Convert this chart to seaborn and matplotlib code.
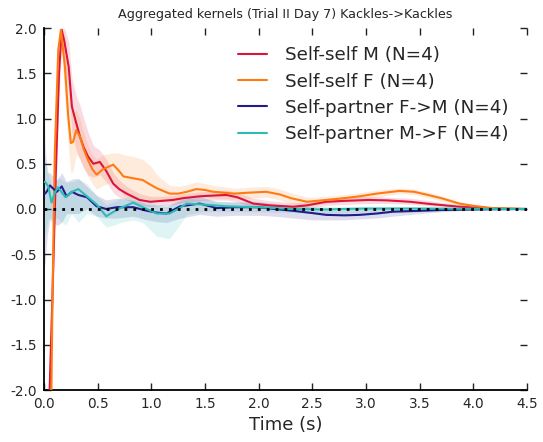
import numpy as np
import pandas as pd
import matplotlib
matplotlib.use("Agg")
import matplotlib.pyplot as plt
import seaborn as sns

# ---------------- data ----------------
labels = ["Self-self M (N=4)", "Self-self F (N=4)",
          "Self-partner F->M (N=4)", "Self-partner M->F (N=4)"]
colors = ["#DC143C", "#FF7A12", "#211C8C", "#2DBBB6"]

# Self-self M
t_m = [0.045, 0.08, 0.11, 0.14, 0.165, 0.19, 0.23, 0.26, 0.3, 0.335, 0.37, 0.41, 0.46, 0.52,
       0.58, 0.645, 0.7, 0.77, 0.89, 0.99, 1.1, 1.2, 1.3, 1.45, 1.6, 1.7, 1.8, 1.95, 2.1, 2.32,
       2.45, 2.63, 2.8, 3.03, 3.2, 3.41, 3.6, 3.87, 4.1, 4.3, 4.5]
v_m = [-2.3, -0.9, 0.4, 1.5, 1.98, 1.85, 1.57, 1.13, 0.95, 0.8, 0.68, 0.58, 0.5, 0.52,
       0.42, 0.28, 0.22, 0.17, 0.1, 0.08, 0.09, 0.1, 0.12, 0.14, 0.15, 0.155, 0.13, 0.06, 0.04, 0.025,
       0.04, 0.08, 0.09, 0.1, 0.095, 0.08, 0.055, 0.025, 0.01, 0.004, 0.0]
hi_m = [-2.2, -0.6, 0.7, 1.75, 2.0, 2.0, 1.85, 1.45, 1.25, 1.15, 1.0, 0.85, 0.7, 0.65,
        0.55, 0.4, 0.32, 0.25, 0.17, 0.14, 0.14, 0.15, 0.17, 0.19, 0.2, 0.21, 0.18, 0.12, 0.09, 0.07,
        0.08, 0.12, 0.13, 0.14, 0.13, 0.12, 0.09, 0.05, 0.02, 0.01, 0.0]
lo_m = [-2.4, -1.2, 0.1, 1.25, 1.8, 1.6, 1.3, 0.85, 0.65, 0.55, 0.45, 0.38, 0.35, 0.38,
        0.3, 0.18, 0.13, 0.1, 0.04, 0.03, 0.04, 0.05, 0.07, 0.09, 0.1, 0.1, 0.08, 0.01, 0.0, -0.02,
        0.0, 0.04, 0.05, 0.06, 0.06, 0.05, 0.03, 0.01, 0.0, 0.0, 0.0]

# Self-self F
t_f = [0.066, 0.08, 0.1, 0.133, 0.158, 0.195, 0.226, 0.25, 0.27, 0.3, 0.335, 0.37, 0.41, 0.45,
       0.49, 0.55, 0.645, 0.7, 0.74, 0.83, 0.92, 0.99, 1.05, 1.17, 1.25, 1.33, 1.42, 1.5, 1.58,
       1.77, 1.9, 2.07, 2.2, 2.3, 2.45, 2.63, 2.8, 2.94, 3.1, 3.31, 3.45, 3.56, 3.7, 3.87, 4.0,
       4.18, 4.5]
v_f = [-2.3, -0.9, 0.6, 1.76, 1.98, 1.57, 1.02, 0.73, 0.74, 0.87, 0.8, 0.66, 0.54, 0.44,
       0.38, 0.44, 0.49, 0.42, 0.36, 0.34, 0.32, 0.27, 0.23, 0.17, 0.17, 0.19, 0.22, 0.21, 0.19,
       0.17, 0.18, 0.19, 0.16, 0.12, 0.08, 0.1, 0.12, 0.14, 0.17, 0.2, 0.19, 0.16, 0.12, 0.06, 0.035,
       0.01, 0.0]
hi_f = [-2.2, -0.7, 0.9, 1.9, 2.0, 1.9, 1.35, 1.1, 1.05, 1.1, 1.0, 0.85, 0.7, 0.6,
        0.55, 0.6, 0.62, 0.62, 0.6, 0.58, 0.55, 0.48, 0.38, 0.26, 0.25, 0.27, 0.3, 0.28, 0.26,
        0.23, 0.24, 0.25, 0.22, 0.18, 0.13, 0.14, 0.16, 0.18, 0.21, 0.23, 0.22, 0.19, 0.15, 0.08, 0.05,
        0.015, 0.0]
lo_f = [-2.4, -1.1, 0.3, 1.5, 1.9, 1.2, 0.7, 0.4, 0.42, 0.6, 0.55, 0.45, 0.36, 0.28,
        0.22, 0.26, 0.3, 0.22, 0.15, 0.12, 0.12, 0.1, 0.1, 0.08, 0.09, 0.11, 0.14, 0.14, 0.12,
        0.11, 0.12, 0.13, 0.1, 0.06, 0.03, 0.06, 0.08, 0.1, 0.13, 0.17, 0.16, 0.13, 0.09, 0.04, 0.02,
        0.005, 0.0]

# Self-partner F->M
t_fm = [0.0, 0.01, 0.03, 0.056, 0.09, 0.12, 0.165, 0.21, 0.26, 0.32, 0.4, 0.49, 0.58, 0.68,
        0.83, 0.96, 1.05, 1.14, 1.27, 1.45, 1.61, 1.77, 2.0, 2.15, 2.32, 2.5, 2.63, 2.8, 2.94,
        3.1, 3.25, 3.5, 3.72, 4.0, 4.5]
v_fm = [0.18, 0.17, 0.2, 0.26, 0.22, 0.19, 0.25, 0.14, 0.19, 0.155, 0.13, 0.03, 0.0, 0.02,
        0.02, -0.02, -0.04, -0.05, 0.03, 0.06, 0.01, 0.02, 0.02, 0.0, -0.02, -0.045, -0.065, -0.07, -0.065,
        -0.05, -0.03, -0.02, -0.01, -0.005, 0.0]
hi_fm = [1.34, 0.7, 0.4, 0.4, 0.35, 0.32, 0.4, 0.3, 0.33, 0.34, 0.25, 0.15, 0.1, 0.12,
         0.1, 0.05, 0.04, 0.03, 0.1, 0.14, 0.08, 0.08, 0.08, 0.06, 0.04, 0.02, 0.0, 0.0, 0.0,
         0.01, 0.02, 0.01, 0.01, 0.0, 0.0]
lo_fm = [-0.65, -0.6, -0.3, -0.1, -0.15, -0.18, -0.15, -0.05, -0.05, -0.05, 0.0, -0.08, -0.1, -0.1,
         -0.08, -0.12, -0.14, -0.15, -0.1, -0.06, -0.08, -0.07, -0.07, -0.08, -0.1, -0.12, -0.12, -0.12, -0.11,
         -0.1, -0.08, -0.05, -0.03, -0.01, 0.0]

# Self-partner M->F
t_mf = [0.0, 0.01, 0.04, 0.07, 0.1, 0.13, 0.2, 0.26, 0.32, 0.4, 0.49, 0.58, 0.65, 0.71,
        0.83, 0.92, 1.05, 1.17, 1.25, 1.33, 1.48, 1.7, 2.0, 2.3, 2.6, 3.0, 3.5, 4.0, 4.5]
v_mf = [0.3, 0.3, 0.25, 0.07, 0.18, 0.24, 0.13, 0.19, 0.22, 0.14, 0.05, -0.08, -0.03, 0.01,
        0.07, 0.02, -0.05, -0.05, 0.0, 0.06, 0.05, 0.03, 0.02, 0.0, -0.005, 0.005, 0.005, 0.002, 0.0]
hi_mf = [0.62, 0.55, 0.4, 0.25, 0.3, 0.35, 0.3, 0.3, 0.33, 0.28, 0.15, 0.05, 0.08, 0.12,
         0.15, 0.1, 0.05, 0.05, 0.08, 0.12, 0.1, 0.08, 0.06, 0.04, 0.03, 0.03, 0.03, 0.01, 0.0]
lo_mf = [-0.45, -0.3, -0.1, -0.15, -0.1, -0.1, -0.18, -0.05, -0.15, -0.05, -0.08, -0.2, -0.18, -0.15,
         -0.12, -0.15, -0.3, -0.33, -0.2, -0.06, -0.03, -0.03, -0.03, -0.04, -0.05, -0.04, -0.03, -0.01, 0.0]

series = [(t_m, v_m, lo_m, hi_m), (t_f, v_f, lo_f, hi_f),
          (t_fm, v_fm, lo_fm, hi_fm), (t_mf, v_mf, lo_mf, hi_mf)]

x_ticks = [0.0, 0.5, 1.0, 1.5, 2.0, 2.5, 3.0, 3.5, 4.0, 4.5]
y_ticks = [-2.0, -1.5, -1.0, -0.5, 0.0, 0.5, 1.0, 1.5, 2.0]

# ---------------- plot ----------------
sns.set_style("ticks")
plt.rcParams["font.family"] = ["DejaVu Sans"]
plt.rcParams["axes.unicode_minus"] = False

frames = []
for lab, (t, v, lo, hi) in zip(labels, series):
    frames.append(pd.DataFrame({"t": t, "v": v, "series": lab}))
df = pd.concat(frames, ignore_index=True)

fig = plt.figure(figsize=(5.43, 4.42), dpi=100)
ax = fig.add_axes([44 / 543, 1 - 390 / 442, 483 / 543, 362 / 442])

for c, (t, v, lo, hi) in zip(colors, series):
    ax.fill_between(t, lo, hi, color=c, alpha=0.15, linewidth=0, zorder=1)

sns.lineplot(data=df, x="t", y="v", hue="series", hue_order=labels,
             palette=colors, linewidth=1.5, errorbar=None, ax=ax, zorder=3)

ax.axhline(0, color="black", linestyle=(0, (1, 2.2)), linewidth=2, zorder=4)

ax.set_xlim(0, 4.5)
ax.set_ylim(-2, 2)
ax.set_xticks(x_ticks)
ax.set_yticks(y_ticks)
ax.set_xticklabels([f"{x:.1f}" for x in x_ticks])
ax.set_yticklabels([f"{y:.1f}" for y in y_ticks])
ax.tick_params(direction="in", length=5, width=1, top=True, right=True,
               labelsize=9.8, pad=5, color="#222222")
for side in ["top", "right"]:
    ax.spines[side].set_visible(False)
for side in ["left", "bottom"]:
    ax.spines[side].set_linewidth(1.3)
    ax.spines[side].set_color("black")

ax.set_xlabel("Time (s)", fontsize=13, labelpad=4)
ax.set_ylabel("")
ax.set_title("Aggregated kernels (Trial II Day 7) Kackles->Kackles", fontsize=9.2, pad=7)

ax.legend(loc="upper right", frameon=False, fontsize=13.2, handlelength=1.55,
          handletextpad=1.0, labelspacing=0.45, borderaxespad=0.6, borderpad=0.4)

fig.savefig("out.png", dpi=100)
